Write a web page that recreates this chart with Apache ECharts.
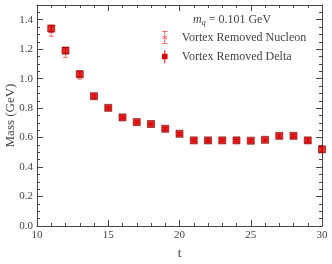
<!DOCTYPE html>
<html><head><meta charset="utf-8">
<script src="https://cdn.jsdelivr.net/npm/echarts@6/dist/echarts.min.js"></script>
<style>html,body{margin:0;padding:0;background:#fff}#c{width:332px;height:264px}</style>
</head><body><div id="c"></div>
<script>
var tValues = [11,12,13,14,15,16,17,18,19,20,21,22,23,24,25,26,27,28,29,30];
var nucleonMass = [1.320,1.175,1.025,0.879,0.800,0.735,0.703,0.690,0.658,0.624,0.580,0.578,0.580,0.580,0.578,0.584,0.610,0.610,0.578,0.520];
var nucleonErr  = [0.032,0.032,0.028,0.012,0.010,0.010,0.009,0.009,0.010,0.010,0.010,0.012,0.010,0.010,0.010,0.010,0.012,0.012,0.014,0.018];
var deltaMass   = [1.340,1.191,1.030,0.881,0.802,0.737,0.705,0.692,0.660,0.626,0.581,0.581,0.581,0.581,0.579,0.585,0.612,0.612,0.581,0.520];
var deltaErr    = [0.022,0.020,0.016,0.010,0.008,0.008,0.007,0.007,0.008,0.008,0.008,0.009,0.008,0.008,0.008,0.008,0.009,0.009,0.011,0.014];
var yTicks = [0.0,0.2,0.4,0.6,0.8,1.0,1.2,1.4];
var xTicks = [10,15,20,25,30];
var legendNames = ['Vortex Removed Nucleon','Vortex Removed Delta'];

var FONT = '"Liberation Serif", "DejaVu Serif", serif';
var nucColor = '#f26d6d';
var deltaFill = '#dd0000';
var deltaEdge = '#7a0000';

function pairs(ys, errs){ return tValues.map(function(t,i){ return [t, ys[i], errs[i]]; }); }

function errRender(color, capW){
  return function(params, api){
    var x = api.value(0), y = api.value(1), e = api.value(2);
    var top = api.coord([x, y + e]), bot = api.coord([x, y - e]);
    var st = {stroke: color, lineWidth: 1};
    return {type:'group', children:[
      {type:'line', shape:{x1:top[0], y1:top[1], x2:bot[0], y2:bot[1]}, style:st},
      {type:'line', shape:{x1:top[0]-capW, y1:top[1], x2:top[0]+capW, y2:top[1]}, style:st},
      {type:'line', shape:{x1:bot[0]-capW, y1:bot[1], x2:bot[0]+capW, y2:bot[1]}, style:st}
    ]};
  };
}

var axisLine = {show:true, onZero:false, lineStyle:{color:'#444', width:1}};
var axisTick = {show:true, inside:true, length:6, lineStyle:{color:'#444'}};

var chart = echarts.init(document.getElementById('c'), null, {renderer:'canvas'});
chart.setOption({
  animation:false,
  backgroundColor:'#fff',
  grid:{left:37, right:10, top:5, bottom:38, containLabel:false, outerBoundsMode:'none'},
  title:{
    text:'{i|m}{s|q}{n| = 0.101 GeV}',
    left:193, top:13, padding:0,
    textStyle:{fontWeight:'normal', rich:{
      i:{fontFamily:FONT, fontSize:12, fontStyle:'italic', fontWeight:'normal', color:'#444'},
      s:{fontFamily:FONT, fontSize:8, fontStyle:'italic', fontWeight:'normal', color:'#444', padding:[6,0,0,0]},
      n:{fontFamily:FONT, fontSize:12, fontWeight:'normal', color:'#444'}
    }}
  },
  legend:{
    orient:'vertical', left:162, top:31, padding:0, itemGap:6, itemWidth:8, itemHeight:13,
    textStyle:{fontFamily:FONT, fontSize:12, color:'#444', padding:[0,0,0,8]},
    data:[
      {name:legendNames[0], icon:'path://M2,0H8V1H5.5V6L7,5 8,6 5.5,7 8,8 7,9 5.5,8V13H8V14H2V13H4.5V8L3,9 2,8 4.5,7 2,6 3,5 4.5,6V1H2Z', itemStyle:{color:nucColor}},
      {name:legendNames[1], icon:'path://M4.5,0H5.5V4H8V10H5.5V14H4.5V10H2V4H4.5Z', itemStyle:{color:deltaFill}}
    ]
  },
  xAxis:[
    {type:'value', min:10, max:30, interval:5, name:'t', nameLocation:'middle', nameGap:21, nameMoveOverlap:false,
      nameTextStyle:{fontFamily:FONT, fontSize:13, color:'#444'},
      axisLabel:{fontFamily:FONT, fontSize:11, color:'#444', margin:4, formatter:function(v){return xTicks.indexOf(v)>=0?String(v):'';}},
      axisLine:axisLine, axisTick:axisTick, splitLine:{show:false},
      minorTick:{show:true, splitNumber:5, length:3, lineStyle:{color:'#444'}}},
    {type:'value', position:'top', min:10, max:30, interval:5, axisLabel:{show:false},
      axisLine:axisLine, axisTick:axisTick, splitLine:{show:false},
      minorTick:{show:true, splitNumber:5, length:3, lineStyle:{color:'#444'}}}
  ],
  yAxis:[
    {type:'value', min:0, max:1.5, interval:0.2, name:'Mass (GeV)', nameLocation:'middle', nameGap:20, nameMoveOverlap:false,
      nameTextStyle:{fontFamily:FONT, fontSize:13, color:'#444'},
      axisLabel:{fontFamily:FONT, fontSize:11, color:'#444', margin:4, showMaxLabel:false,
        formatter:function(v){ var r=Math.round(v*10)/10; return yTicks.indexOf(r)>=0 && Math.abs(v-r)<1e-6 ? r.toFixed(1) : ''; }},
      axisLine:axisLine, axisTick:axisTick, splitLine:{show:false},
      minorTick:{show:true, splitNumber:4, length:3, lineStyle:{color:'#444'}}},
    {type:'value', position:'right', min:0, max:1.5, interval:0.2, axisLabel:{show:false},
      axisLine:axisLine, axisTick:axisTick, splitLine:{show:false},
      minorTick:{show:true, splitNumber:4, length:3, lineStyle:{color:'#444'}}}
  ],
  series:[
    {type:'custom', name:legendNames[0], clip:true, renderItem:errRender(nucColor, 2.5),
      encode:{x:0, y:1}, data:pairs(nucleonMass, nucleonErr), itemStyle:{color:nucColor}, z:2},
    {type:'scatter', name:legendNames[0], clip:true, symbol:'path://M0,0L10,10M10,0L0,10', symbolSize:4,
      data:pairs(nucleonMass, nucleonErr), itemStyle:{color:'none', borderColor:nucColor, borderWidth:1}, z:3},
    {type:'custom', name:legendNames[1], clip:true, renderItem:errRender(deltaFill, 2.5),
      encode:{x:0, y:1}, data:pairs(deltaMass, deltaErr), itemStyle:{color:deltaFill}, z:4},
    {type:'scatter', name:legendNames[1], clip:true, symbol:'rect', symbolSize:7,
      data:pairs(deltaMass, deltaErr), itemStyle:{color:deltaFill, borderColor:deltaEdge, borderWidth:0.8}, z:5}
  ]
});
</script></body></html>
